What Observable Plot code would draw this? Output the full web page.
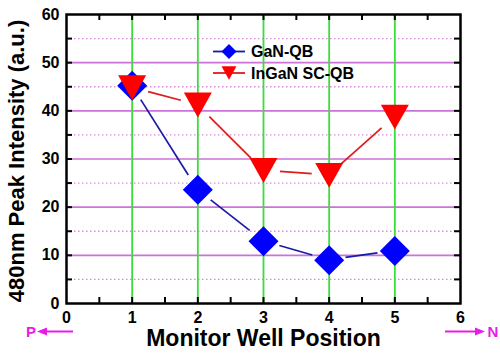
<!DOCTYPE html>
<html>
<head>
<meta charset="utf-8">
<script src="https://cdn.jsdelivr.net/npm/d3@7"></script>
<script src="https://cdn.jsdelivr.net/npm/@observablehq/plot@0.6"></script>
<style>
  html, body { margin: 0; padding: 0; background: #fff; }
  #chart { width: 500px; height: 358px; }
</style>
</head>
<body>
<div id="chart"></div>
<script>
// ---- data ----
const positions = [1, 2, 3, 4, 5];
const ganQB = [45.2, 23.6, 12.9, 9.0, 10.9];
const inganSCQB = [44.8, 41.2, 27.6, 26.6, 38.7];
const seriesNames = ["GaN-QB", "InGaN SC-QB"];
const xTicks = [0, 1, 2, 3, 4, 5, 6];
const yTicks = [0, 10, 20, 30, 40, 50, 60];
const yMajorGrid = [10, 20, 30, 40, 50];
const yMinorGrid = [5, 15, 25, 35, 45, 55];
const xMinorTicks = [0.5, 1, 1.5, 2, 2.5, 3, 3.5, 4, 4.5, 5, 5.5];
const yMinorTicks = [5, 10, 15, 20, 25, 30, 35, 40, 45, 50, 55];
const xTitle = "Monitor Well Position";
const yTitle = "480nm Peak Intensity (a.u.)";
const leftLabel = "P";
const rightLabel = "N";

// ---- derived tables ----
const ganData = positions.map((x, i) => ({x, y: ganQB[i]}));
const inganData = positions.map((x, i) => ({x, y: inganSCQB[i]}));
const segs = arr => arr.slice(1).map((d, i) => ({x1: arr[i].x, y1: arr[i].y, x2: d.x, y2: d.y}));

// ---- styles ----
const FONT = "'Liberation Sans', Arial, sans-serif";
const BLUE = "#0000ff", BLUE_LINE = "#1a1aa8";
const RED = "#ff0000", RED_LINE = "#dd1c1c";
const GREEN = "#3ddc3d", MAGENTA = "#cc72d8", MAGENTA_DOT = "#d98ade";
const PINK = "#e81ce8";

const diamondSym = {draw(ctx, size) {
  const r = Math.sqrt(size / Math.PI);
  ctx.moveTo(0, -r); ctx.lineTo(r, 0); ctx.lineTo(0, r); ctx.lineTo(-r, 0); ctx.closePath();
}};
const downTriSym = {draw(ctx, size) {
  const r = Math.sqrt(size / Math.PI);
  const h = 0.89 * r;
  ctx.moveTo(-r, -h); ctx.lineTo(r, -h); ctx.lineTo(0, h); ctx.closePath();
}};

function gapLines(stroke, gap, width) {
  return (index, scales, values) => {
    const g = d3.create("svg:g");
    for (const i of index) {
      const x1 = values.x1[i], y1 = values.y1[i], x2 = values.x2[i], y2 = values.y2[i];
      const dx = x2 - x1, dy = y2 - y1, L = Math.hypot(dx, dy);
      const ux = dx / L, uy = dy / L;
      g.append("line")
        .attr("x1", x1 + ux * gap).attr("y1", y1 + uy * gap)
        .attr("x2", x2 - ux * gap).attr("y2", y2 - uy * gap)
        .attr("stroke", stroke).attr("stroke-width", width);
    }
    return g.node();
  };
}

const W = 500, H = 358, ML = 66, MR = 40, MT = 14, MB = 55;
const innerW = W - ML - MR, innerH = H - MT - MB;
const TICK = 6;

// legend + P/N annotation drawn in frame-relative pixels
function annotations(index, scales, values, dims) {
  const g = d3.create("svg:g").attr("text-anchor", "start");
  const lx = dims.marginLeft + 163, ly = [dims.marginTop + 37.5, dims.marginTop + 59];
  const cols = [[BLUE_LINE, BLUE, diamondSym], [RED_LINE, RED, downTriSym]];
  seriesNames.forEach((name, i) => {
    const [lc, mc, sym] = cols[i];
    g.append("line").attr("x1", lx - 16).attr("x2", lx + 16).attr("y1", ly[i]).attr("y2", ly[i])
      .attr("stroke", lc).attr("stroke-width", 1.8);
    g.append("path").attr("transform", `translate(${lx},${ly[i]})`)
      .attr("d", d3.symbol(sym, Math.PI * 7.5 * 7.5)()).attr("fill", mc);
    g.append("text").attr("x", lx + 22).attr("y", ly[i]).attr("dy", "0.36em")
      .attr("text-anchor", "start")
      .attr("font-size", 16).attr("font-weight", "bold").attr("font-family", FONT)
      .attr("fill", "black").text(name);
  });
  const ay = dims.height - 26.5;
  // left arrow (P)
  g.append("text").attr("x", 31).attr("y", ay).attr("dy", "0.36em").attr("text-anchor", "middle")
    .attr("font-size", 15).attr("font-weight", "bold").attr("font-family", FONT).attr("fill", PINK).text(leftLabel);
  g.append("line").attr("x1", 73).attr("x2", 44).attr("y1", ay).attr("y2", ay).attr("stroke", PINK).attr("stroke-width", 2);
  g.append("path").attr("d", `M37,${ay} L47,${ay - 4} L47,${ay + 4} Z`).attr("fill", PINK);
  // right arrow (N)
  g.append("line").attr("x1", 445).attr("x2", 477).attr("y1", ay).attr("y2", ay).attr("stroke", PINK).attr("stroke-width", 2);
  g.append("path").attr("d", `M485,${ay} L475,${ay - 4} L475,${ay + 4} Z`).attr("fill", PINK);
  g.append("text").attr("x", 493).attr("y", ay).attr("dy", "0.36em").attr("text-anchor", "middle")
    .attr("font-size", 15).attr("font-weight", "bold").attr("font-family", FONT).attr("fill", PINK).text(rightLabel);
  return g.node();
}

const chart = Plot.plot({
  width: W, height: H,
  marginLeft: ML, marginRight: MR, marginTop: MT, marginBottom: MB,
  style: {fontFamily: FONT, background: "#fff", color: "#000", overflow: "visible"},
  x: {domain: [0, 6]},
  y: {domain: [0, 60]},
  marks: [
    Plot.ruleY(yMinorGrid, {stroke: MAGENTA_DOT, strokeWidth: 1.3, strokeDasharray: "1.5,2.5"}),
    Plot.ruleY(yMajorGrid, {stroke: MAGENTA, strokeWidth: 1.6}),
    Plot.ruleX(positions, {stroke: GREEN, strokeWidth: 1.8}),
    // inward ticks
    Plot.tickX(xMinorTicks, {x: d => d, stroke: "black", strokeWidth: 2, insetTop: innerH - TICK}),
    Plot.tickX(xMinorTicks, {x: d => d, stroke: "black", strokeWidth: 2, insetBottom: innerH - TICK}),
    Plot.tickY(yMinorTicks, {y: d => d, stroke: "black", strokeWidth: 2, insetRight: innerW - TICK}),
    Plot.tickY(yMinorTicks, {y: d => d, stroke: "black", strokeWidth: 2, insetLeft: innerW - TICK}),
    // connecting lines with gaps
    Plot.link(segs(ganData), {x1: "x1", y1: "y1", x2: "x2", y2: "y2", stroke: BLUE_LINE, render: gapLines(BLUE_LINE, 17, 1.7)}),
    Plot.link(segs(inganData), {x1: "x1", y1: "y1", x2: "x2", y2: "y2", stroke: RED_LINE, render: gapLines(RED_LINE, 17, 1.7)}),
    Plot.dot(ganData, {x: "x", y: "y", symbol: diamondSym, r: 15, fill: BLUE, stroke: "none"}),
    Plot.dot(inganData, {x: "x", y: "y", symbol: downTriSym, r: 14, fill: RED, stroke: "none"}),
    Plot.frame({stroke: "black", strokeWidth: 2.5}),
    Plot.axisX({ticks: xTicks, tickSize: 0, tickPadding: 8, fontSize: 16, fontWeight: "bold", label: null, tickFormat: d => d}),
    Plot.axisY({ticks: yTicks, tickSize: 0, tickPadding: 7, fontSize: 16, fontWeight: "bold", label: null, tickFormat: d => d}),
    Plot.text([xTitle], {frameAnchor: "bottom", dy: 42, fontSize: 23, fontWeight: "bold", fill: "black", textAnchor: "middle"}),
    Plot.text([yTitle], {frameAnchor: "left", dx: -50, dy: 2, rotate: -90, fontSize: 22, fontWeight: "bold", fill: "black", textAnchor: "middle"}),
    annotations
  ]
});
document.getElementById("chart").appendChild(chart);
</script>
</body>
</html>
